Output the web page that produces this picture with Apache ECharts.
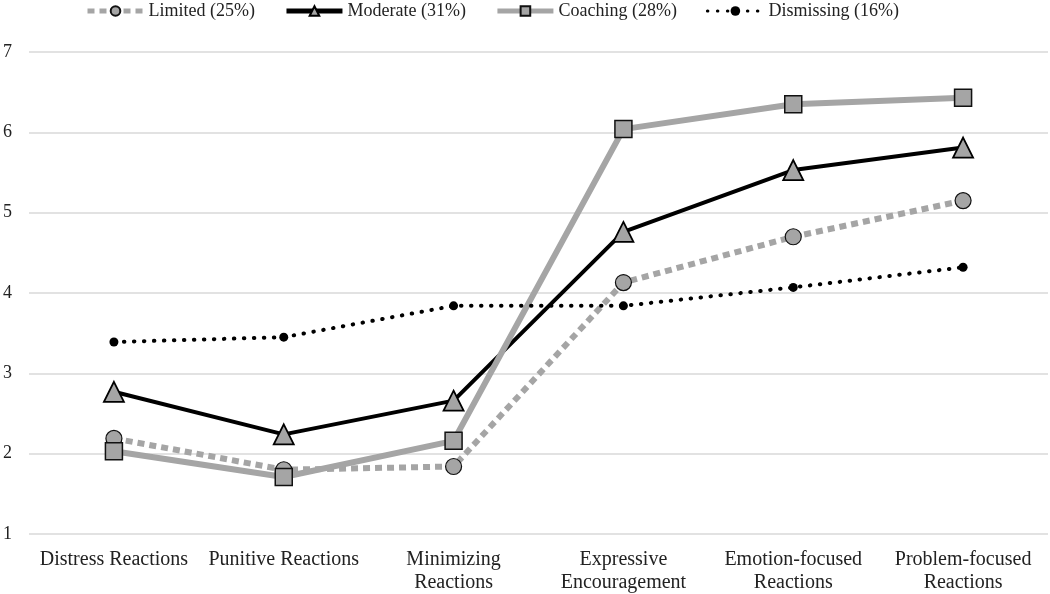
<!DOCTYPE html>
<html><head><meta charset="utf-8">
<script src="https://cdn.jsdelivr.net/npm/echarts@6/dist/echarts.min.js"></script>
<style>html,body{margin:0;padding:0;background:#fff}#c{width:1050px;height:594px}</style>
</head><body><div id="c"></div>
<script>
const categories = ['Distress Reactions','Punitive Reactions','Minimizing\nReactions','Expressive\nEncouragement','Emotion-focused\nReactions','Problem-focused\nReactions'];
const limited = [2.19, 1.80, 1.84, 4.13, 4.70, 5.15];
const moderate = [2.77, 2.24, 2.66, 4.76, 5.53, 5.81];
const coaching = [2.03, 1.71, 2.16, 6.04, 6.35, 6.43];
const dismissing = [3.39, 3.45, 3.84, 3.84, 4.07, 4.32];
const seriesNames = ['Limited (25%)','Moderate (31%)','Coaching (28%)','Dismissing (16%)'];
const yTicks = {min:1, max:7, interval:1};

const gray = '#a5a5a5';
const font = '"Liberation Serif", "Times New Roman", serif';
const chart = echarts.init(document.getElementById('c'));
chart.setOption({
  animation:false,
  backgroundColor:'#fff',
  textStyle:{fontFamily:font},
  legend:{
    top:-3, left:80, itemGap:29, itemWidth:56, itemHeight:12,
    textStyle:{fontFamily:font, fontSize:18, color:'#222'},
    data:[
      {name:seriesNames[0], lineStyle:{width:5}, textStyle:{width:116}},
      {name:seriesNames[1], lineStyle:{width:5}},
      {name:seriesNames[2], lineStyle:{width:5}},
      {name:seriesNames[3], lineStyle:{width:3}}
    ]
  },
  grid:{left:29, right:2, top:52, bottom:59},
  xAxis:{
    type:'category', data:categories, boundaryGap:true,
    axisLine:{show:false}, axisTick:{show:false},
    axisLabel:{fontFamily:font, fontSize:20, color:'#222', margin:14, lineHeight:23, interval:0}
  },
  yAxis:{
    type:'value', min:yTicks.min, max:yTicks.max, interval:yTicks.interval,
    axisLine:{show:false}, axisTick:{show:false},
    axisLabel:{fontFamily:font, fontSize:18, color:'#222', margin:17},
    splitLine:{lineStyle:{color:'#d9d9d9', width:1.5}}
  },
  series:[
    {name:seriesNames[0], type:'line', data:limited, symbol:'circle', symbolSize:16, z:2,
     lineStyle:{color:gray, width:6, type:[7,5], cap:'butt'},
     itemStyle:{color:gray, borderColor:'#111', borderWidth:1.2}},
    {name:seriesNames[1], type:'line', data:moderate, symbol:'triangle', symbolSize:20, z:3,
     lineStyle:{color:'#000', width:4},
     itemStyle:{color:gray, borderColor:'#000', borderWidth:1.8}},
    {name:seriesNames[2], type:'line', data:coaching, symbol:'rect', symbolSize:17, z:4,
     lineStyle:{color:gray, width:6},
     itemStyle:{color:gray, borderColor:'#111', borderWidth:1.5}},
    {name:seriesNames[3], type:'line', data:dismissing, symbol:'circle', symbolSize:9, z:5,
     lineStyle:{color:'#000', width:4, type:[0.5,9.5], cap:'round'},
     itemStyle:{color:'#000', borderColor:'#000', borderWidth:0}}
  ]
});
</script></body></html>
